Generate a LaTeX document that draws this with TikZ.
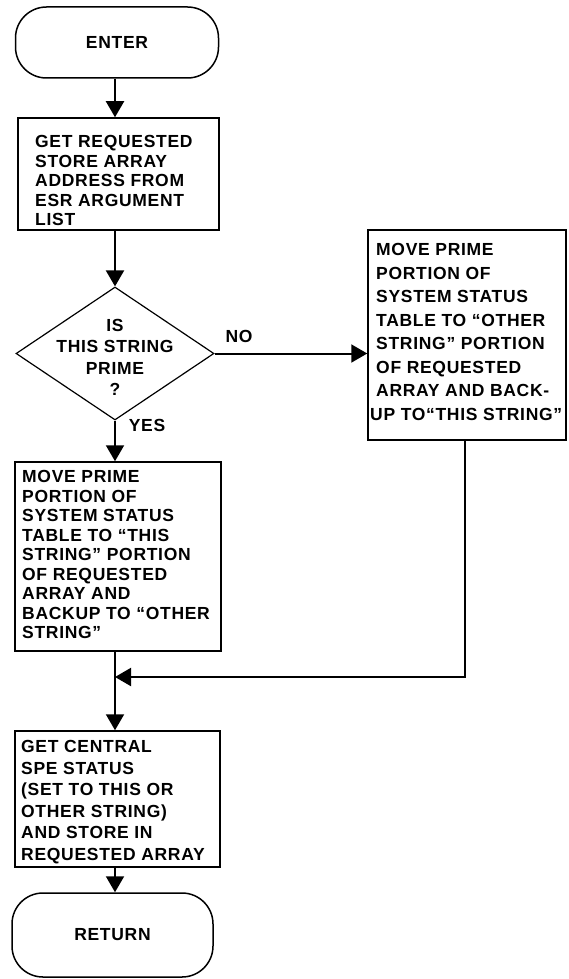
\documentclass[tikz,border=0pt]{standalone}
\usepackage{fontspec}
\setmainfont{Liberation Sans}[LetterSpace=4.0]
\usetikzlibrary{arrows.meta,shapes.geometric}
\begin{document}
\begin{tikzpicture}[x=1pt,y=-1pt,
  every node/.style={font=\bfseries\fontsize{17.5}{19.5}\selectfont, inner sep=0pt},
  frame/.style={draw, line width=1.5pt, rectangle},
  term/.style={draw, line width=1.5pt, rectangle, rounded corners=31pt},
  txt/.style={anchor=north west, align=left},
  decision/.style={draw, diamond, line width=1.2pt, minimum width=198pt, minimum height=133pt},
  flow/.style={line width=2pt, -{Triangle[length=16pt,width=18pt]}}
]
\useasboundingbox (0,0) rectangle (568,979);

% main vertical flow line and the return line from the right-hand box
\coordinate (mainx) at (115,0);
\coordinate (rbx) at (465,0);
\coordinate (merge) at (115,677);

% terminals
\node[term, minimum width=203pt, minimum height=71pt] (enter) at (117,42.5) {ENTER};
\node[term, minimum width=201pt, minimum height=84pt] (ret) at (112.5,935) {RETURN};

% process boxes
\node[frame, minimum width=201pt, minimum height=112pt] (b1) at (118.5,174) {};
\node[txt] (b1t) at (35,135.5) {GET REQUESTED\\STORE ARRAY\\ADDRESS FROM\\ESR ARGUMENT\\LIST};

\node[frame, minimum width=198pt, minimum height=210pt] (rb) at (467,335) {};
\node[txt, font=\bfseries\fontsize{17.5}{23.5}\selectfont] (rbt) at (376,243.5)
  {MOVE PRIME\\PORTION OF\\SYSTEM STATUS\\TABLE TO ``OTHER\\STRING'' PORTION\\OF REQUESTED\\ARRAY AND BACK-\\\hspace*{-6pt}UP TO``THIS STRING''};

\node[frame, minimum width=206pt, minimum height=189pt] (b2) at (118,556.5) {};
\node[txt] (b2t) at (22,470.5)
  {MOVE PRIME\\PORTION OF\\SYSTEM STATUS\\TABLE TO ``THIS\\STRING'' PORTION\\OF REQUESTED\\ARRAY AND\\BACKUP TO ``OTHER\\STRING''};

\node[frame, minimum width=205pt, minimum height=136pt] (b3) at (117.5,799) {};
\node[txt, font=\bfseries\fontsize{17.5}{21.5}\selectfont] (b3t) at (21,740.5)
  {GET CENTRAL\\SPE STATUS\\(SET TO THIS OR\\OTHER STRING)\\AND STORE IN\\REQUESTED ARRAY};

% decision
\node[decision] (dia) at (115,353.5) {};
\node[align=center, font=\bfseries\fontsize{17.5}{21.5}\selectfont] (diat) at (115,357.5) {IS\\THIS STRING\\PRIME\\?};
\node (no) at (239,336) {NO};
\node (yes) at (147,425) {YES};

% connectors
\draw[flow] (enter.south -| mainx) -- (b1.north -| mainx);
\draw[flow] (b1.south -| mainx) -- (dia.north);
\draw[flow] (dia.south) -- (b2.north -| mainx);
\draw[flow] (dia.east) -- (dia.east -| rb.west);
\draw[flow] (b2.south -| mainx) -- (b3.north -| mainx);
\draw[flow] (rb.south -| rbx) |- (merge);
\draw[flow] (b3.south -| mainx) -- (ret.north -| mainx);
\end{tikzpicture}
\end{document}
